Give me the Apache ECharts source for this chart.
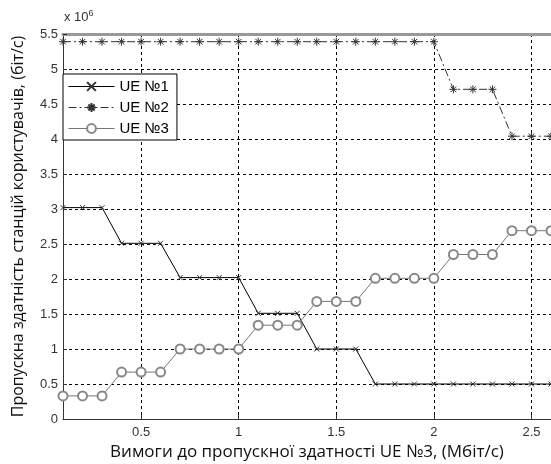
<!DOCTYPE html>
<html><head><meta charset="utf-8">
<script src="https://cdn.jsdelivr.net/npm/echarts@6/dist/echarts.min.js"></script>
<style>html,body{margin:0;padding:0;background:#fff}#c{width:551px;height:464px}</style>
</head><body><div id="c"></div>
<script>
const xValues = [0.1,0.2,0.3,0.4,0.5,0.6,0.7,0.8,0.9,1.0,1.1,1.2,1.3,1.4,1.5,1.6,1.7,1.8,1.9,2.0,2.1,2.2,2.3,2.4,2.5,2.6];
const ue1 = [3.02,3.02,3.02,2.51,2.51,2.51,2.02,2.02,2.02,2.02,1.51,1.51,1.51,1.0,1.0,1.0,0.5,0.5,0.5,0.5,0.5,0.5,0.5,0.5,0.5,0.5];
const ue2 = [5.39,5.39,5.39,5.39,5.39,5.39,5.39,5.39,5.39,5.39,5.39,5.39,5.39,5.39,5.39,5.39,5.39,5.39,5.39,5.39,4.71,4.71,4.71,4.04,4.04,4.04];
const ue3 = [0.33,0.33,0.33,0.67,0.67,0.67,1.0,1.0,1.0,1.0,1.34,1.34,1.34,1.68,1.68,1.68,2.01,2.01,2.01,2.01,2.35,2.35,2.35,2.69,2.69,2.69];
const xTicks = [0.5,1,1.5,2,2.5];
const yTicks = [0,0.5,1,1.5,2,2.5,3,3.5,4,4.5,5,5.5];
const names = ['UE №1','UE №2','UE №3'];

const pair = a => xValues.map((x,i)=>[x,a[i]]);
const chart = echarts.init(document.getElementById('c'));
const splitDash = {show:true,lineStyle:{color:'#000',type:[3,3],width:1}};
chart.setOption({
  animation:false,
  backgroundColor:'#fff',
  grid:{left:63,right:0,top:34,bottom:45,containLabel:false,outerBoundsMode:'none'},
  xAxis:[{
    type:'value',min:0.1,max:2.6,
    axisLine:{lineStyle:{color:'#333'}},
    axisTick:{show:true,inside:true,length:4,customValues:xTicks,lineStyle:{color:'#333'}},
    axisLabel:{customValues:xTicks,color:'#333',fontFamily:'Liberation Sans',fontSize:13,margin:7},
    splitLine:splitDash,
    name:'Вимоги до пропускної здатності UE №3, (Мбіт/с)',nameLocation:'middle',nameGap:22,
    nameTextStyle:{color:'#111',fontFamily:'Open Sans',fontSize:17}
  },{
    type:'value',min:0.1,max:2.6,position:'top',
    axisLine:{show:true,lineStyle:{color:'#999',width:3}},
    axisTick:{show:false},axisLabel:{show:false},splitLine:{show:false}
  }],
  yAxis:{
    type:'value',min:0,max:5.5,interval:0.5,
    axisLine:{show:true,lineStyle:{color:'#333'}},
    axisTick:{show:true,inside:true,length:4,lineStyle:{color:'#333'}},
    axisLabel:{color:'#333',fontFamily:'Liberation Sans',fontSize:13,margin:5,
      formatter:v=>String(v)},
    splitLine:splitDash,
    name:'Пропускна здатність станцій користувачів, (біт/с)',nameLocation:'middle',nameGap:37,
    nameTextStyle:{color:'#111',fontFamily:'Open Sans',fontSize:16}
  },
  legend:{
    orient:'vertical',left:63,top:74,itemWidth:46,itemHeight:11,itemGap:6,
    backgroundColor:'#fff',borderColor:'#000',borderWidth:1,padding:[5,8,4,5],
    lineStyle:{width:1},
    textStyle:{color:'#000',fontFamily:'Liberation Sans',fontSize:15},
    data:names
  },
  graphic:[{
    type:'text',left:64,top:9,
    style:{text:'x 10{s|6}',fill:'#333',font:'13px "Liberation Sans"',
      rich:{s:{fontSize:9,verticalAlign:'top',padding:[0,0,8,0],fill:'#333',fontFamily:'Liberation Sans'}}}
  }],
  series:[
    {name:names[0],type:'line',data:pair(ue1),symbol:'path://M0,0L10,10M10,0L0,10',symbolSize:5,
      lineStyle:{color:'#000',width:1},itemStyle:{color:'rgba(0,0,0,0)',borderColor:'#333',borderWidth:1},z:3},
    {name:names[1],type:'line',data:pair(ue2),symbol:'path://M5,0L5,10M0,5L10,5M1.5,1.5L8.5,8.5M8.5,1.5L1.5,8.5',symbolSize:8,
      lineStyle:{color:'#333',width:1,type:[8,3,2,3]},itemStyle:{color:'rgba(0,0,0,0)',borderColor:'#333',borderWidth:1},z:3},
    {name:names[2],type:'line',data:pair(ue3),symbol:'emptyCircle',symbolSize:9,
      lineStyle:{color:'#777',width:1},itemStyle:{color:'#888',borderColor:'#888',borderWidth:1},z:3}
  ]
});
</script></body></html>
